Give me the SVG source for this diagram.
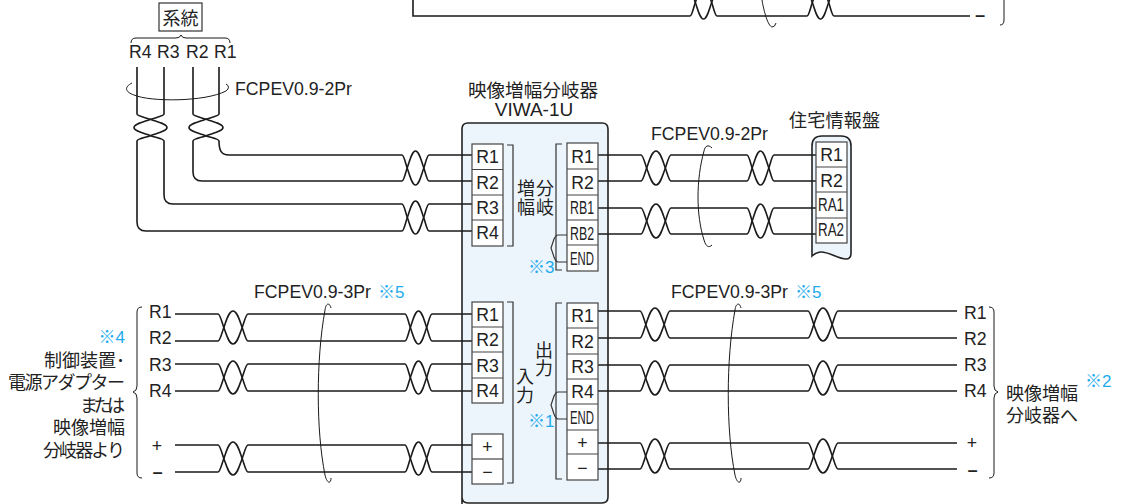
<svg xmlns="http://www.w3.org/2000/svg" width="1125" height="504" viewBox="0 0 1125 504">
<style>
text{font-family:"Liberation Sans","Noto Sans CJK JP",sans-serif;font-size:17.700px;fill:#222}
.j{font-size:18px}
.b{fill:#22aaee;font-size:17px}
.m{text-anchor:middle}
.e{text-anchor:end}
.n{font-size:18px}
.w{fill:none;stroke:#1a1a1a;stroke-width:1.6}
.t{fill:none;stroke:#1a1a1a;stroke-width:1}
.k{fill:none;stroke:#333;stroke-width:1.2}
.c{fill:#fff;stroke:#444;stroke-width:1.2}
.p{fill:#edf5fc;stroke:#222;stroke-width:1.6}
</style>
<rect width="1125" height="504" fill="#fff"/>
<g id="node-main-box">
<path class="p" d="M462 510V129q0-6 6-6H602q6 0 6 6V497q0 6-6 6H468q-6 0-6-6"/>
</g>
<g id="node-panel-box">
<path class="p" d="M812 256V146q0-10 10-10H841q10 0 10 10V253q0 6-5 6C838 259 828 251 820 252Q815 253 812 256Z"/>
</g>
<g id="connectors">
<path class="w" d="M413 0V16H690c2 0 3-7 5.500-14c2.500-7 4.500-16 8-16c3.500 0 5.500 9 8 16c2.500 7 3.500 14 5.500 14H807c2 0 3-7 5.500-14c2.500-7 4.500-16 8-16c3.500 0 5.500 9 8 16c2.500 7 3.500 14 5.500 14H970"/>
<path class="w" d="M690 -11c2 0 3 7 5.500 14c2.500 7 4.500 16 8 16c3.500 0 5.500-9 8-16c2.500-7 3.500-14 5.500-14H807c2 0 3 7 5.500 14c2.500 7 4.500 16 8 16c3.500 0 5.500-9 8-16c2.500-7 3.500-14 5.500-14"/>
<path class="w" d="M219 67V114c0 2-7 3-14 5.500c-7 2.500-16 4.500-16 8c0 3.500 9 5.500 16 8c7 2.500 14 3.500 14 5.500C219 150 221 155 229 155H402c2 0 3 7 5.500 14c2.500 7 4.500 16 8 16c3.500 0 5.500-9 8-16c2.500-7 3.500-14 5.500-14H472"/>
<path class="w" d="M193 67V114c0 2 7 3 14 5.500c7 2.500 16 4.500 16 8c0 3.500-9 5.500-16 8c-7 2.500-14 3.500-14 5.500V172q0 9 9 9H402c2 0 3-7 5.500-14c2.500-7 4.500-16 8-16c3.500 0 5.500 9 8 16c2.500 7 3.500 14 5.500 14H472"/>
<path class="w" d="M164 67V114c0 2-7 3-14 5.500c-7 2.500-16 4.500-16 8c0 3.500 9 5.500 16 8c7 2.500 14 3.500 14 5.500V195q0 9 9 9H402c2 0 3 7 5.500 14c2.500 7 4.500 16 8 16c3.500 0 5.500-9 8-16c2.500-7 3.500-14 5.500-14H472"/>
<path class="w" d="M137 67V114c0 2 7 3 14 5.500c7 2.500 16 4.500 16 8c0 3.500-9 5.500-16 8c-7 2.500-14 3.500-14 5.500V222q0 9 9 9H402c2 0 3-7 5.500-14c2.500-7 4.500-16 8-16c3.500 0 5.500 9 8 16c2.500 7 3.500 14 5.500 14H472"/>
<path class="w" d="M598 155H641c2 0 3.500 7 6 14c2.500 7 5 16 9 16c4 0 6.500-9 9-16c2.500-7 4-14 6-14H747c2 0 3 7 5.500 14c2.500 7 4.500 16 8 16c3.500 0 5.500-9 8-16c2.500-7 3.500-14 5.500-14H816"/>
<path class="w" d="M598 181H641c2 0 3.500-7 6-14c2.500-7 5-16 9-16c4 0 6.500 9 9 16c2.500 7 4 14 6 14H747c2 0 3-7 5.500-14c2.500-7 4.500-16 8-16c3.500 0 5.500 9 8 16c2.500 7 3.500 14 5.500 14H816"/>
<path class="w" d="M598 208H641c2 0 3.500 7 6 14c2.500 7 5 16 9 16c4 0 6.500-9 9-16c2.500-7 4-14 6-14H747c2 0 3 7 5.500 14c2.500 7 4.500 16 8 16c3.500 0 5.500-9 8-16c2.500-7 3.500-14 5.500-14H816"/>
<path class="w" d="M598 234H641c2 0 3.500-7 6-14c2.500-7 5-16 9-16c4 0 6.500 9 9 16c2.500 7 4 14 6 14H747c2 0 3-7 5.500-14c2.500-7 4.500-16 8-16c3.500 0 5.500 9 8 16c2.500 7 3.500 14 5.500 14H816"/>
<path class="w" d="M175 314H218c2 0 3.500 7 6 14c2.500 7 5 16 9 16c4 0 6.500-9 9-16c2.500-7 4-14 6-14H405c2 0 3 7 5.500 14c2.500 7 4.500 16 8 16c3.500 0 5.500-9 8-16c2.500-7 3.500-14 5.500-14H472"/>
<path class="w" d="M175 341H218c2 0 3.500-7 6-14c2.500-7 5-16 9-16c4 0 6.500 9 9 16c2.500 7 4 14 6 14H405c2 0 3-7 5.500-14c2.500-7 4.500-16 8-16c3.500 0 5.500 9 8 16c2.500 7 3.500 14 5.500 14H472"/>
<path class="w" d="M175 364H218c2 0 3.500 7 6 14c2.500 7 5 16 9 16c4 0 6.500-9 9-16c2.500-7 4-14 6-14H405c2 0 3 7 5.500 14c2.500 7 4.500 16 8 16c3.500 0 5.500-9 8-16c2.500-7 3.500-14 5.500-14H472"/>
<path class="w" d="M175 391H218c2 0 3.500-7 6-14c2.500-7 5-16 9-16c4 0 6.500 9 9 16c2.500 7 4 14 6 14H405c2 0 3-7 5.500-14c2.500-7 4.500-16 8-16c3.500 0 5.500 9 8 16c2.500 7 3.500 14 5.500 14H472"/>
<path class="w" d="M175 445H218c2 0 3.500 7 6 14c2.500 7 5 16 9 16c4 0 6.500-9 9-16c2.500-7 4-14 6-14H405c2 0 3 7 5.500 14c2.500 7 4.500 16 8 16c3.500 0 5.500-9 8-16c2.500-7 3.500-14 5.500-14H472"/>
<path class="w" d="M175 472H218c2 0 3.500-7 6-14c2.500-7 5-16 9-16c4 0 6.500 9 9 16c2.500 7 4 14 6 14H405c2 0 3-7 5.500-14c2.500-7 4.500-16 8-16c3.500 0 5.500 9 8 16c2.500 7 3.500 14 5.500 14H472"/>
<path class="w" d="M598 311H640c2 0 3.500 7 6 14c2.500 7 5 16 9 16c4 0 6.500-9 9-16c2.500-7 4-14 6-14H808c2 0 3.500 7 6 14c2.500 7 5 16 9 16c4 0 6.500-9 9-16c2.500-7 4-14 6-14H957"/>
<path class="w" d="M598 338H640c2 0 3.500-7 6-14c2.500-7 5-16 9-16c4 0 6.500 9 9 16c2.500 7 4 14 6 14H808c2 0 3.500-7 6-14c2.500-7 5-16 9-16c4 0 6.500 9 9 16c2.500 7 4 14 6 14H957"/>
<path class="w" d="M598 365H640c2 0 3.500 7 6 14c2.500 7 5 16 9 16c4 0 6.500-9 9-16c2.500-7 4-14 6-14H808c2 0 3.500 7 6 14c2.500 7 5 16 9 16c4 0 6.500-9 9-16c2.500-7 4-14 6-14H957"/>
<path class="w" d="M598 391H640c2 0 3.500-7 6-14c2.500-7 5-16 9-16c4 0 6.500 9 9 16c2.500 7 4 14 6 14H808c2 0 3.500-7 6-14c2.500-7 5-16 9-16c4 0 6.500 9 9 16c2.500 7 4 14 6 14H957"/>
<path class="w" d="M598 443H640c2 0 3.500 7 6 14c2.500 7 5 16 9 16c4 0 6.500-9 9-16c2.500-7 4-14 6-14H808c2 0 3.500 7 6 14c2.500 7 5 16 9 16c4 0 6.500-9 9-16c2.500-7 4-14 6-14H957"/>
<path class="w" d="M598 469H640c2 0 3.500-7 6-14c2.500-7 5-16 9-16c4 0 6.500 9 9 16c2.500 7 4 14 6 14H808c2 0 3.500-7 6-14c2.500-7 5-16 9-16c4 0 6.500 9 9 16c2.500 7 4 14 6 14H957"/>
<path class="t" d="M226 84Q231 87 226 91C205 102 150 102 134 95C125 92 124 87 132 83"/>
<path class="t" d="M712 148C708 144 705 146 704 151C696 180 696 215 704 240C706 247 709 248 712 245"/>
<path class="t" d="M331 308C330 303 326 302 325 310C316 360 316 430 325 475C327 484 331 484 331 478"/>
<path class="t" d="M741 308C740 303 736 302 735 310C726 360 726 430 735 475C737 484 741 484 741 478"/>
<path class="t" d="M762 0C764 12 768 26 772 27Q775 27 776 23"/>
</g>
<g id="node-system">
<rect class="k" x="159" y="3" width="43" height="28"/>
<text class="j m" x="180.500" y="24.500">系統</text>
<path class="t" d="M131 43Q131 38 136 38H176Q180 38 181 35Q182 38 186 38H225Q230 38 230 43"/>
<text x="129" y="58">R4</text><text x="157" y="58">R3</text><text x="186" y="58">R2</text><text x="214" y="58">R1</text>
<text x="235" y="95">FCPEV0.9-2Pr</text>
</g>
<g id="node-splitter-title">
<text class="m" style="font-size:18.600px" x="533" y="97">映像増幅分岐器</text>
<text class="m" style="font-size:19px" x="534" y="116">VIWA-1U</text>
</g>
<g id="node-branch-in">
<rect class="c" x="472" y="144" width="31" height="102"/>
<path class="c" d="M472 169.500H503M472 195H503M472 220H503"/>
<text class="m" x="487.500" y="163">R1</text><text class="m" x="487.500" y="189">R2</text><text class="m" x="487.500" y="214">R3</text><text class="m" x="487.500" y="239">R4</text>
<path class="k" d="M507 145H513V246H507"/>
<text class="j" x="517" y="195">増</text><text class="j" x="536" y="195">分</text>
<text class="j" x="517" y="214">幅</text><text class="j" x="536" y="214">岐</text>
</g>
<g id="node-branch-out">
<rect class="c" x="567" y="143" width="31" height="128"/>
<path class="c" d="M567 169H598M567 195H598M567 220H598M567 245H598"/>
<text class="m" x="582.500" y="163">R1</text><text class="m" x="582.500" y="189">R2</text>
<text x="570" y="214" textLength="24" lengthAdjust="spacingAndGlyphs" class="n">RB1</text>
<text x="570" y="240" textLength="24" lengthAdjust="spacingAndGlyphs" class="n">RB2</text>
<text x="570" y="265" textLength="24" lengthAdjust="spacingAndGlyphs" class="n">END</text>
<path class="k" d="M562 144H556V270H562"/>
<path class="k" d="M567 235H558Q556 235 554 239L551 248L554 257Q556 262 558 262H567"/>
<text class="b" x="528" y="273">※3</text>
</g>
<g id="node-io-in">
<rect class="c" x="472" y="302" width="31" height="101"/>
<path class="c" d="M472 327H503M472 352H503M472 378H503"/>
<text class="m" x="487.500" y="321">R1</text><text class="m" x="487.500" y="346">R2</text><text class="m" x="487.500" y="372">R3</text><text class="m" x="487.500" y="397">R4</text>
<rect class="c" x="472" y="434" width="31" height="50"/>
<path class="c" d="M472 459H503"/>
<text class="m" x="487.500" y="453">+</text><text class="m" x="487.500" y="478">−</text>
<path class="k" d="M507 302H513V483H507"/>
<text class="j m" x="525" y="383">入</text><text class="j m" x="525" y="402">力</text>
</g>
<g id="node-io-out">
<rect class="c" x="567" y="303" width="31" height="177"/>
<path class="c" d="M567 328H598M567 354H598M567 379H598M567 404H598M567 430H598M567 454H598"/>
<text class="m" x="582.500" y="322">R1</text><text class="m" x="582.500" y="348">R2</text><text class="m" x="582.500" y="373">R3</text><text class="m" x="582.500" y="398">R4</text>
<text x="570" y="424" textLength="24" lengthAdjust="spacingAndGlyphs" class="n">END</text>
<text class="m" x="582.500" y="449">+</text><text class="m" x="582.500" y="474">−</text>
<path class="k" d="M562 303H556V479H562"/>
<path class="k" d="M567 392H558Q556 392 554 396L551 405L554 414Q556 419 558 419H567"/>
<text class="j m" x="544" y="357">出</text><text class="j m" x="544" y="375">力</text>
<text class="b" x="528" y="427">※1</text>
</g>
<g id="node-panel">
<text class="j" x="789" y="127" textLength="91">住宅情報盤</text>
<rect class="c" x="816" y="142" width="31" height="101"/>
<path class="c" d="M816 167H847M816 192H847M816 218H847"/>
<text class="m" x="831.500" y="161">R1</text><text class="m" x="831.500" y="187">R2</text>
<text x="818" y="211" textLength="26" lengthAdjust="spacingAndGlyphs" class="n">RA1</text>
<text x="818" y="236" textLength="26" lengthAdjust="spacingAndGlyphs" class="n">RA2</text>
<text x="651" y="140">FCPEV0.9-2Pr</text>
</g>
<g id="node-left-source">
<path class="t" d="M142 307Q137 307 137 312V386Q137 391 133 392Q137 393 137 398V473Q137 478 142 478"/>
<text x="149" y="318">R1</text><text x="149" y="344">R2</text><text x="149" y="371">R3</text><text x="149" y="397">R4</text>
<text class="m" x="157" y="452">+</text><text class="m" x="157.500" y="479" style="font-weight:bold">−</text>
<text class="b e" x="125" y="343">※4</text>
<text class="j e" x="125" y="367">制御装置･</text>
<text class="j e" x="125" y="389" textLength="117">電源アダプター</text>
<text class="j e" x="125" y="412" textLength="45">または</text>
<text class="j e" x="125" y="434">映像増幅</text>
<text class="j e" x="125" y="457" textLength="82">分岐器より</text>
<text x="254" y="298">FCPEV0.9-3Pr</text><text class="b" x="378" y="298">※5</text>
</g>
<g id="node-right-dest">
<path class="t" d="M989 307Q994 307 994 312V386Q994 391 998 392Q994 393 994 398V473Q994 478 989 478"/>
<text x="964" y="319">R1</text><text x="964" y="345">R2</text><text x="964" y="371">R3</text><text x="964" y="397">R4</text>
<text class="m" x="972" y="449">+</text><text class="m" x="972.500" y="477" style="font-weight:bold">−</text>
<text class="j" x="1006" y="400">映像増幅</text>
<text class="j" x="1006" y="422">分岐器へ</text>
<text class="b" x="1085" y="387">※2</text>
<text x="671" y="298">FCPEV0.9-3Pr</text><text class="b" x="795" y="298">※5</text>
</g>
<g id="node-top-fragment">
<text class="m" x="980" y="22" style="font-weight:bold">−</text>
<path class="t" d="M1004 0V20Q1004 25 1000 25"/>
</g>
</svg>
